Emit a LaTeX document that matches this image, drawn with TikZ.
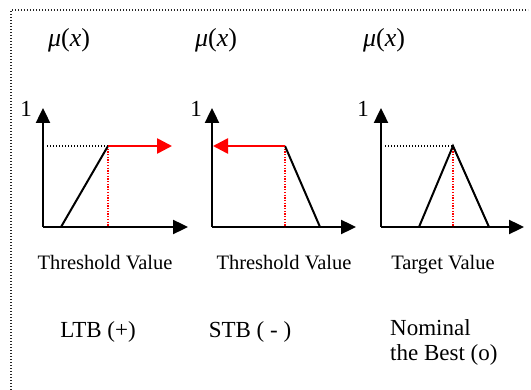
\documentclass[tikz,border=0pt]{standalone}
\usepackage{fontspec}
\setmainfont{Liberation Serif}
\usetikzlibrary{positioning,arrows.meta}
\definecolor{mfred}{HTML}{FF0000}

\begin{document}
\begin{tikzpicture}[
  x=1pt, y=-1pt,
  frame/.style={dash pattern=on 1.4pt off 1.6pt, line width=1.4pt, color=black!85},
  axis/.style={-{Triangle[length=15pt,width=14pt]}, line width=2.4pt},
  curve/.style={line width=2pt},
  level/.style={dash pattern=on 1.3pt off 1.7pt, line width=1.3pt},
  peak/.style={dash pattern=on 1.3pt off 1.4pt, line width=1.3pt, color=mfred},
  pointer/.style={-{Triangle[length=15pt,width=15pt]}, line width=2.6pt, color=mfred},
  mu/.style={font=\fontsize{26}{30}\selectfont, anchor=base, inner sep=0pt},
  one/.style={font=\fontsize{23}{26}\selectfont, anchor=base, inner sep=0pt},
  axlabel/.style={font=\fontsize{20.5}{24}\selectfont, anchor=base, inner sep=0pt},
  kind/.style={font=\fontsize{23}{25}\selectfont, anchor=base, inner sep=0pt}
]
\useasboundingbox (0,0) rectangle (531,390);
\draw[frame] (11,390) |- (528,10);

% LTB panel
\coordinate (o1) at (43,227);
\coordinate (y1) at (43,108);
\coordinate (x1) at (188,227);
\coordinate (s1) at (61,227);
\coordinate (p1) at (108,146);
\coordinate (r1) at (172,146);
\draw[axis] (o1) -- (y1);
\draw[axis] (o1) -- (x1);
\draw[level] (47,146) -- (p1);
\draw[peak] (p1) -- (p1 |- o1);
\draw[curve] (s1) -- (p1);
\draw[pointer] (p1) -- (r1);
\node[mu] (mu1) at (69,47) {\textit{μ}(\textit{x})};
\node[one] (one1) at (26,117) {1};
\node[axlabel] (thr1) at (105,270) {Threshold Value};
\node[kind] (ltb) at (98,338) {LTB (+)};

% STB panel
\coordinate (o2) at (212,227);
\coordinate (y2) at (212,108);
\coordinate (x2) at (356,227);
\coordinate (s2) at (320,227);
\coordinate (p2) at (285,146);
\coordinate (r2) at (213,146);
\draw[axis] (o2) -- (y2);
\draw[axis] (o2) -- (x2);
\draw[peak] (p2) -- (p2 |- o2);
\draw[curve] (p2) -- (s2);
\draw[pointer] (p2) -- (r2);
\node[mu] (mu2) at (216,47) {\textit{μ}(\textit{x})};
\node[one] (one2) at (196,117) {1};
\node[axlabel] (thr2) at (284,270) {Threshold Value};
\node[kind] (stb) at (250,338) {STB ( - )};

% Nominal the best panel
\coordinate (o3) at (381,227);
\coordinate (y3) at (381,108);
\coordinate (x3) at (524,227);
\coordinate (a3) at (419,227);
\coordinate (p3) at (453,146);
\coordinate (b3) at (489,227);
\draw[axis] (o3) -- (y3);
\draw[axis] (o3) -- (x3);
\draw[level] (385,146) -- (p3);
\draw[peak] (p3) -- (p3 |- o3);
\draw[curve] (a3) -- (p3) -- (b3);
\node[mu] (mu3) at (384,47) {\textit{μ}(\textit{x})};
\node[one] (one3) at (363,117) {1};
\node[axlabel] (tgt) at (443,270) {Target Value};
\node[kind, align=left, anchor=north west] (ntb) at (390,319) {Nominal\\the Best (o)};
\end{tikzpicture}
\end{document}
